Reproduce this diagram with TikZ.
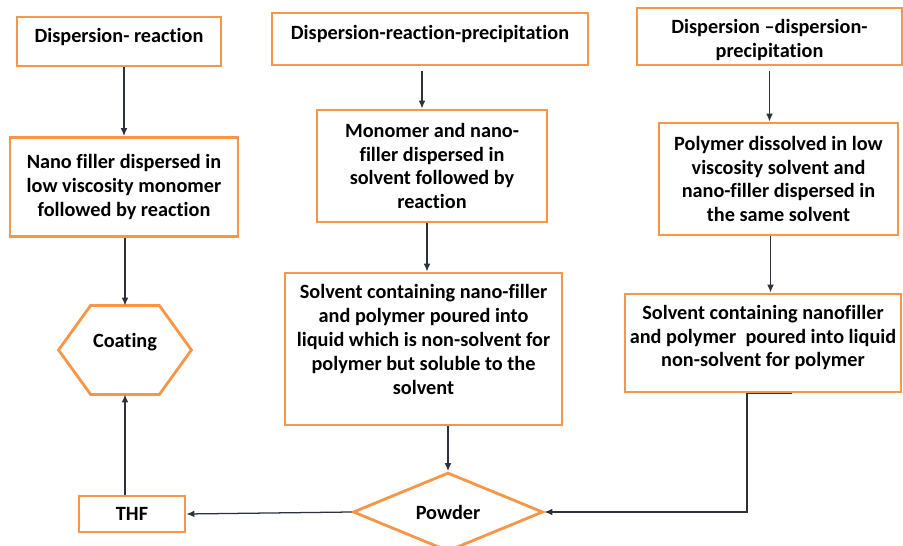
\documentclass[tikz,border=0pt]{standalone}
\usepackage{fontspec}
\setmainfont{Carlito}[Ligatures=CommonOff]
\usetikzlibrary{arrows.meta, shapes.geometric}
\definecolor{boxorange}{RGB}{247,150,70}
\definecolor{arrowgray}{RGB}{45,50,58}

\begin{document}
\begin{tikzpicture}[
    x=0.025cm, y=-0.025cm,
    block/.style={rectangle, draw=boxorange, line width=2pt, fill=white,
                  font=\bfseries\fontsize{14.4}{17}\selectfont, align=center, inner sep=0pt},
    arrow/.style={-{Latex[length=2mm, width=1.7mm]}, draw=arrowgray, line width=0.9pt}
]
    \useasboundingbox (0,0) rectangle (903,546);
    % left column
    \node[block, minimum width=5.1cm, minimum height=1.225cm, text depth=9pt] (dr) at (119,41.5) {Dispersion- reaction};
    \node[block, minimum width=5.7cm, minimum height=2.475cm] (nf) at (124,187)
        {Nano filler dispersed in\\ low viscosity monomer\\ followed by reaction};
    \node[block, draw=none, fill=none, minimum width=3.25cm, minimum height=2.15cm, text depth=14pt] (coat) at (125,350) {Coating};
    \draw[boxorange, line width=2pt] ([xshift=0.8cm]coat.north west) -- ([xshift=-0.8cm]coat.north east) -- (coat.east)
        -- ([xshift=-0.8cm]coat.south east) -- ([xshift=0.8cm]coat.south west) -- (coat.west) -- cycle;
    \node[block, minimum width=2.65cm, minimum height=0.9cm] (thf) at (132,514) {THF};
    % middle column
    \node[block, minimum width=7.9cm, minimum height=1.3cm, text depth=9pt] (drp) at (430,39) {Dispersion-reaction-precipitation};
    \node[block, minimum width=5.75cm, minimum height=2.8cm] (mono) at (432,166)
        {Monomer and nano-\\ filler dispersed in\\ solvent followed by\\ reaction};
    \node[block, minimum width=6.925cm, minimum height=3.8cm] (sol) at (423.5,349)
        {Solvent containing nano-filler\\ and polymer poured into\\ liquid which is non-solvent for\\ polymer but soluble to the\\ solvent\\[-3pt]};
    \node[diamond, draw=boxorange, line width=2pt, fill=white, minimum width=4.75cm, minimum height=1.75cm,
          inner sep=0pt, font=\bfseries\fontsize{14.4}{17}\selectfont] (pow) at (448,512) {Powder};
    % right column
    \node[block, minimum width=6.625cm, minimum height=1.425cm] (ddp) at (769.5,36.5)
        {~\\[-1.5pt]Dispersion \textendash dispersion-\\ precipitation};
    \node[block, minimum width=5.975cm, minimum height=2.8cm] (poly) at (778.5,179)
        {Polymer dissolved in low\\ viscosity solvent and\\ nano-filler dispersed in\\ the same solvent};
    \node[block, minimum width=6.9cm, minimum height=2.45cm] (sol2) at (763,343)
        {Solvent containing nanofiller\\ and polymer~ poured into liquid\\ non-solvent for polymer\\[-7pt]};
    % connectors
    \draw[arrow] (dr.south -| nf.north) -- (nf.north); \draw[arrow] (nf.south -| coat.north) -- (coat.north);
    \draw[arrow] (thf.north -| coat.south) -- (coat.south); \draw[arrow] (pow.west) -- (thf.east);
    \draw[arrow] ([xshift=-0.2cm, yshift=-0.12cm]drp.south) -- ([xshift=-0.2cm]drp.south |- mono.north);
    \draw[arrow] ([xshift=-0.125cm]mono.south) -- ([xshift=-0.125cm]mono.south |- sol.north);
    \draw[arrow] (sol.south -| pow.north) -- (pow.north);
    \draw[arrow] ([yshift=-0.12cm]ddp.south) -- (ddp.south |- poly.north); \draw[arrow] ([xshift=-0.2cm]poly.south) -- ([xshift=-0.2cm]poly.south |- sol2.north);
    \draw[arrow] ([xshift=0.725cm]sol2.south) -- ([xshift=-0.4cm]sol2.south) |- (pow.east);
\end{tikzpicture}
\end{document}
